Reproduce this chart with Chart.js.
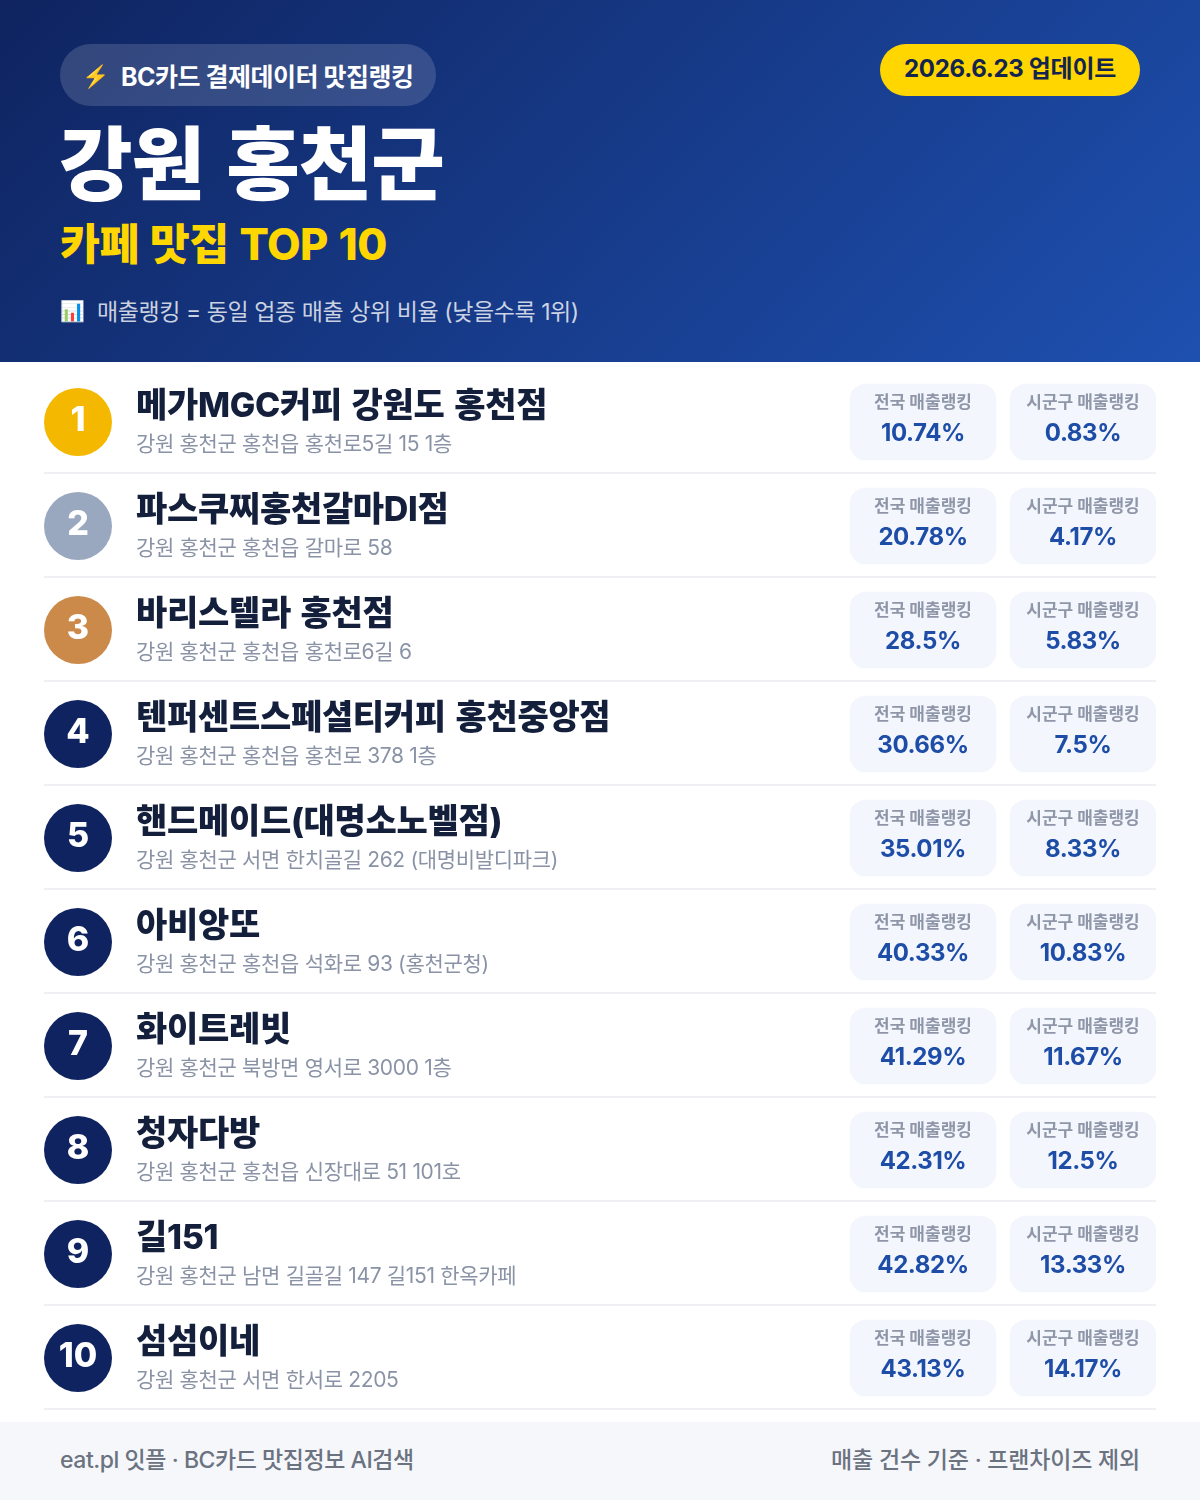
<!DOCTYPE html>
<html lang="ko"><head><meta charset="utf-8">
<script src="https://cdn.jsdelivr.net/npm/chart.js@4/dist/chart.umd.min.js"></script>
<style>
html,body{margin:0;padding:0;background:#fff}
body{width:1200px;height:1500px;position:relative;overflow:hidden;font-family:Inter,"Noto Sans CJK KR","Noto Sans",sans-serif}
.abs{position:absolute;white-space:nowrap}
#head{left:0;top:0;width:1200px;height:362px;background:linear-gradient(135deg,#0f2460 0%,#1e50b0 100%)}
#badge{left:60px;top:44px;width:376px;height:62px;border-radius:31px;background:rgba(255,255,255,.15)}
#badgeIcon{left:82px;top:61px;font-size:22px;line-height:30px}
#badgeText{left:121px;top:59px;font-size:25px;line-height:36px;font-weight:700;color:#fff;letter-spacing:-.5px}
#date{left:880px;top:44px;width:260px;height:52px;line-height:50px;border-radius:26px;background:#FFD600;color:#13244F;font-size:24px;font-weight:700;text-align:center;letter-spacing:-.3px}
#title{left:59px;top:105px;font-size:80px;line-height:118px;font-weight:900;color:#fff;letter-spacing:-1px;word-spacing:7px}
#sub{left:60px;top:212px;font-size:43.5px;line-height:64px;font-weight:800;color:#FFD600;letter-spacing:-.6px;word-spacing:2px}
#noteIcon{left:60px;top:295px;font-size:20px;line-height:32px}
#note{left:97px;top:295px;font-size:23px;line-height:34px;color:rgba(255,255,255,.78);letter-spacing:-.43px}
#foot{left:0;top:1422px;width:1200px;height:78px;background:#F5F7FB}
#footL{left:60px;top:1442px;font-size:23px;line-height:36px;font-weight:500;color:#6b7280;letter-spacing:-.45px}
#footR{right:60px;top:1442px;font-size:23px;line-height:36px;font-weight:500;color:#6b7280;letter-spacing:-.2px}
#wrap{left:0;top:362px;width:1200px;height:1060px}
canvas{display:block}
</style></head><body>
<div class="abs" id="head"></div>
<div class="abs" id="badge"></div>
<div class="abs" id="badgeIcon">⚡</div>
<div class="abs" id="badgeText">BC카드 결제데이터 맛집랭킹</div>
<div class="abs" id="date">2026.6.23 업데이트</div>
<div class="abs" id="title">강원 홍천군</div>
<div class="abs" id="sub">카페 맛집 TOP 10</div>
<div class="abs" id="noteIcon">📊</div>
<div class="abs" id="note">매출랭킹 = 동일 업종 매출 상위 비율 (낮을수록 1위)</div>
<div class="abs" id="wrap"><canvas id="c" width="1200" height="1060"></canvas></div>
<div class="abs" id="foot"></div>
<div class="abs" id="footL">eat.pl 잇플 · BC카드 맛집정보 AI검색</div>
<div class="abs" id="footR">매출 건수 기준 · 프랜차이즈 제외</div>
<script>
const ranks = ["1","2","3","4","5","6","7","8","9","10"];
const names = ["메가MGC커피 강원도 홍천점","파스쿠찌홍천갈마DI점","바리스텔라 홍천점","텐퍼센트스페셜티커피 홍천중앙점","핸드메이드(대명소노벨점)","아비앙또","화이트레빗","청자다방","길151","섬섬이네"];
const addresses = ["강원 홍천군 홍천읍 홍천로5길 15 1층","강원 홍천군 홍천읍 갈마로 58","강원 홍천군 홍천읍 홍천로6길 6","강원 홍천군 홍천읍 홍천로 378 1층","강원 홍천군 서면 한치골길 262 (대명비발디파크)","강원 홍천군 홍천읍 석화로 93 (홍천군청)","강원 홍천군 북방면 영서로 3000 1층","강원 홍천군 홍천읍 신장대로 51 101호","강원 홍천군 남면 길골길 147 길151 한옥카페","강원 홍천군 서면 한서로 2205"];
const nationalRank = [10.74,20.78,28.5,30.66,35.01,40.33,41.29,42.31,42.82,43.13];
const localRank = [0.83,4.17,5.83,7.5,8.33,10.83,11.67,12.5,13.33,14.17];
const nationalLabel = "전국 매출랭킹";
const localLabel = "시군구 매출랭킹";

const FONT = 'Inter,"Noto Sans CJK KR","Noto Sans",sans-serif';
const medal = ["#F4B800","#9AA8BF","#CB8A4A"];
const navy = "#0F2360";
const col1 = [850,996], col2 = [1010,1156];
const textPlugin = {
  id:"rowText",
  beforeDatasetsDraw(ch){
    const {ctx,scales:{x,y}} = ch;
    ctx.save();
    ctx.fillStyle = "#EEF0F4";
    ranks.forEach((r,i)=>{
      const py = Math.round(y.getPixelForValue(i));
      ctx.fillRect(x.left, py+50, x.right-x.left, 2);
    });
    ctx.restore();
  },
  afterDatasetsDraw(ch){
    const {ctx,scales:{x,y}} = ch;
    const put=(t,px,py,font,color,align,ls,ws)=>{
      ctx.font=font;ctx.fillStyle=color;ctx.textAlign=align;ctx.textBaseline="alphabetic";
      ctx.letterSpacing=(ls||0)+"px";ctx.wordSpacing=(ws||0)+"px";ctx.fillText(t,px,py);
    };
    ctx.save();
    ranks.forEach((r,i)=>{
      const py = y.getPixelForValue(i);
      put(r, x.getPixelForValue(78), py+9, `800 34px ${FONT}`, "#fff","center",0);
      put(names[i], x.getPixelForValue(136), py-5, `800 34px ${FONT}`, "#141F3C","left",-0.3,2.5);
      put(addresses[i], x.getPixelForValue(136), py+29, `400 21px ${FONT}`, "#8A93A6","left",-0.33);
      const cx1=x.getPixelForValue((col1[0]+col1[1])/2), cx2=x.getPixelForValue((col2[0]+col2[1])/2);
      put(nationalLabel,cx1,py-14,`700 17px ${FONT}`,"#8E96A8","center",0);
      put(localLabel,cx2,py-14,`700 17px ${FONT}`,"#8E96A8","center",0);
      put(nationalRank[i]+"%",cx1,py+19,`700 24px ${FONT}`,"#1E4DA8","center",-0.4);
      put(localRank[i]+"%",cx2,py+19,`700 24px ${FONT}`,"#1E4DA8","center",-0.4);
    });
    ctx.restore();
  }
};
new Chart(document.getElementById("c"),{
  type:"bar",
  data:{labels:ranks,datasets:[
    {type:"scatter",label:"순위",data:ranks.map(r=>({x:78,y:r})),
     pointRadius:34,pointHoverRadius:34,pointBorderWidth:0,
     pointBackgroundColor:ranks.map((r,i)=>medal[i]||navy),showLine:false,order:0},
    {label:nationalLabel,data:ranks.map(()=>col1),backgroundColor:"#F3F6FD",barThickness:76,borderRadius:16,borderSkipped:false,grouped:false,order:1},
    {label:localLabel,data:ranks.map(()=>col2),backgroundColor:"#F3F6FD",barThickness:76,borderRadius:16,borderSkipped:false,grouped:false,order:1}
  ]},
  options:{
    indexAxis:"y",responsive:false,animation:false,devicePixelRatio:1,
    layout:{autoPadding:false,padding:{left:44,right:44,top:8,bottom:12}},
    plugins:{legend:{display:false},tooltip:{enabled:false}},
    scales:{
      x:{type:"linear",min:44,max:1156,display:false},
      y:{type:"category",labels:ranks,display:false,offset:true}
    }
  },
  plugins:[textPlugin]
});
</script>
</body></html>
